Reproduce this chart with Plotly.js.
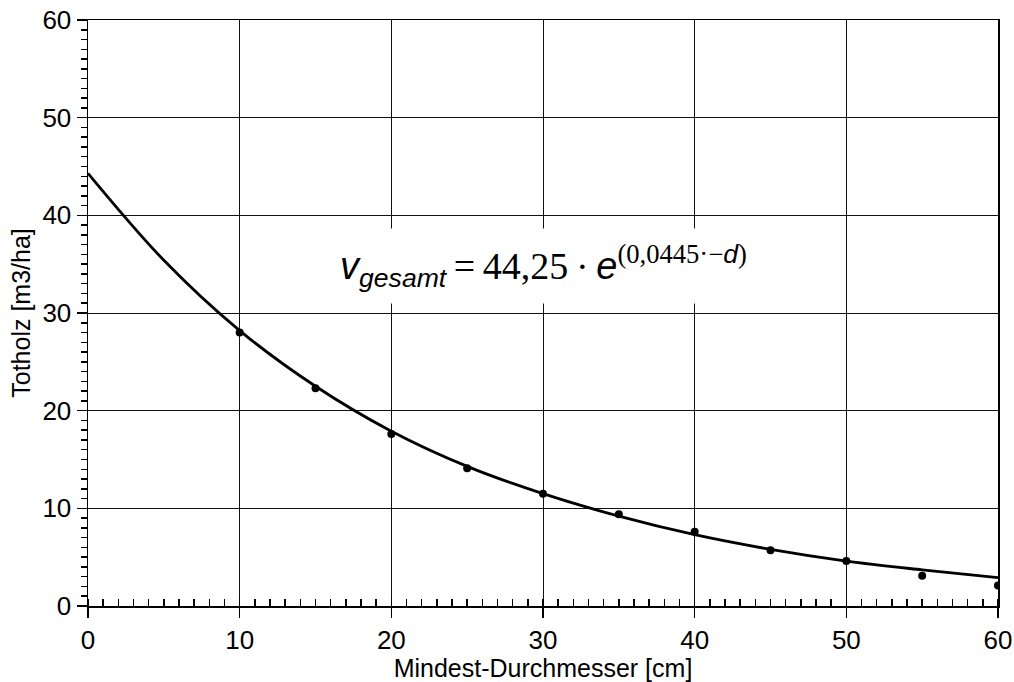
<!DOCTYPE html>
<html>
<head>
<meta charset="utf-8">
<script src="https://cdn.plot.ly/plotly-3.0.1.min.js"></script>
<style>html,body{margin:0;padding:0;background:#fff;}#chart{width:1014px;height:682px;}</style>
</head>
<body>
<div id="chart"></div>
<script>
// Measured points
const diameters = [10, 15, 20, 25, 30, 35, 40, 45, 50, 55, 60];
const volumes = [28.0, 22.3, 17.6, 14.1, 11.5, 9.4, 7.6, 5.7, 4.6, 3.1, 2.1];
// Fitted curve
const curveX = [0, 5, 10, 15, 20, 25, 30, 35, 40, 45, 50, 55, 60];
const curveY = [44.3, 35.4, 28.2, 22.5, 17.9, 14.3, 11.5, 9.2, 7.3, 5.8, 4.6, 3.7, 2.9];
const xTicks = [0, 10, 20, 30, 40, 50, 60];
const yTicks = [0, 10, 20, 30, 40, 50, 60];

const FONT = 'Liberation Sans, Arial, sans-serif';
const SERIF = 'Liberation Serif, Times New Roman, serif';

const traces = [
  {x: curveX, y: curveY, type: 'scatter', mode: 'lines',
   line: {color: 'black', width: 2.8, shape: 'spline', smoothing: 1}, hoverinfo: 'skip'},
  {x: diameters, y: volumes, type: 'scatter', mode: 'markers',
   marker: {color: 'black', size: 8}}
];

const axisBase = {
  range: [0, 60], showline: true, linecolor: 'black', linewidth: 1.5, mirror: true,
  showgrid: true, gridcolor: '#111', gridwidth: 1, zeroline: false,
  ticks: 'outside', ticklen: 10, tickwidth: 1.5, tickcolor: 'black',
  tickfont: {family: FONT, size: 26, color: 'black'},
  tickmode: 'array'
};

const layout = {
  width: 1014, height: 682,
  margin: {l: 88, r: 16, t: 20, b: 76},
  paper_bgcolor: 'white', plot_bgcolor: 'white',
  showlegend: false,
  xaxis: Object.assign({}, axisBase, {
    tickvals: xTicks, ticktext: xTicks.map(String),
    minor: {dtick: 1, ticks: 'inside', ticklen: 7, tickwidth: 1.5, tickcolor: 'black', showgrid: false},
    title: {text: 'Mindest-Durchmesser [cm]', font: {family: FONT, size: 25, color: 'black'}, standoff: 4}
  }),
  yaxis: Object.assign({}, axisBase, {
    tickvals: yTicks, ticktext: yTicks.map(String),
    minor: {dtick: 1, ticks: 'outside', ticklen: 6, tickwidth: 1.5, tickcolor: 'black', showgrid: false},
    title: {text: 'Totholz [m3/ha]', font: {family: FONT, size: 25, color: 'black'}, standoff: 4}
  }),
  annotations: [{
    x: 30, y: 34.8, xref: 'x', yref: 'y', xanchor: 'center', yanchor: 'middle',
    showarrow: false, bgcolor: 'white', borderpad: 10,
    font: {family: SERIF, size: 38, color: 'black'},
    text: '<span style="font-family:Liberation Sans"><i>v</i></span><sub><span style="font-family:Liberation Sans"><i>gesamt</i></span></sub>\u2009=\u200944,25\u2009·\u2009<span style="font-family:Liberation Sans"><i>e</i></span><sup>(0,0445·−<span style="font-family:Liberation Sans"><i>d</i></span>)</sup>'
  }]
};

Plotly.newPlot('chart', traces, layout, {displayModeBar: false, staticPlot: true});
</script>
</body>
</html>
